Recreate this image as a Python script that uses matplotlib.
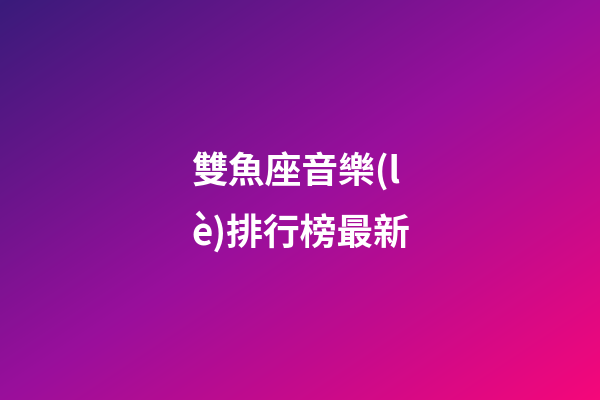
import numpy as np
import matplotlib
matplotlib.use("Agg")
import matplotlib.pyplot as plt
from matplotlib.colors import LinearSegmentedColormap

# text lines and gradient stops
title_lines = ["雙魚座音樂(l", "è)排行榜最新"]
grad_stops = [0.0, 0.5, 1.0]
grad_colors = ["#3a1b7b", "#9a0f9c", "#f5077a"]

plt.rcParams['font.family'] = ['Noto Sans CJK TC', 'DejaVu Sans']

fig = plt.figure(figsize=(6, 4), dpi=100)
ax = fig.add_axes([0, 0, 1, 1])
ax.set_xlim(0, 600)
ax.set_ylim(400, 0)
ax.axis("off")

# diagonal gradient background
xx, yy = np.meshgrid(np.linspace(0, 1, 600), np.linspace(0, 1, 400))
t = (xx + yy) / 2
cmap = LinearSegmentedColormap.from_list("bg", list(zip(grad_stops, grad_colors)))
ax.imshow(t, cmap=cmap, extent=[0, 600, 400, 0], aspect="auto", vmin=0, vmax=1)

line_y = [172, 232]
for txt, y in zip(title_lines, line_y):
    ax.text(191, y, txt, color="white", fontsize=26.5, fontweight="bold",
            ha="left", va="center")

fig.savefig("out.png", dpi=100)
